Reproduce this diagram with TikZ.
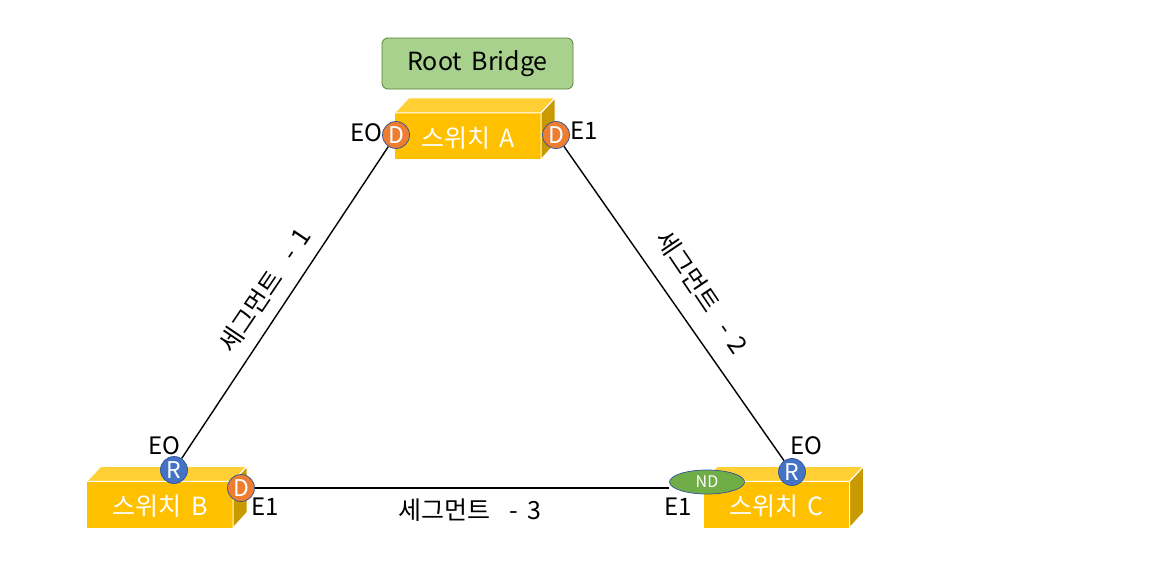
\documentclass[tikz,border=0pt]{standalone}
\usepackage{fontspec}
\setmainfont{Noto Sans CJK KR}[WordSpace=1.7]
\usetikzlibrary{shapes.geometric}
\definecolor{swfrontc}{HTML}{FFC000}
\definecolor{swtopc}{HTML}{FFCF33}
\definecolor{swsidec}{HTML}{C99A00}
\definecolor{rootfill}{HTML}{A9D18E}
\definecolor{rootdraw}{HTML}{548235}
\definecolor{dfill}{HTML}{ED7D31}
\definecolor{rfill}{HTML}{4472C4}
\definecolor{ndfill}{HTML}{70AD47}
\definecolor{portdraw}{HTML}{2F5597}
\tikzset{
  swfront/.style={rectangle, fill=swfrontc, minimum width=146pt, minimum height=46pt, inner sep=0pt},
  swtxt/.style={text=white, font=\fontsize{25}{28}\selectfont, inner sep=0pt},
  swtop/.style={fill=swtopc, draw=white, line width=1pt, line join=round},
  swside/.style={fill=swsidec, draw=white, line width=1pt, line join=round},
  portD/.style={circle, fill=dfill, draw=portdraw, line width=0.7pt, minimum size=27pt, inner sep=0pt, text=white, font=\fontsize{23}{24}\selectfont},
  portR/.style={circle, fill=rfill, draw=portdraw, line width=0.7pt, minimum size=27pt, inner sep=0pt, text=white, font=\fontsize{23}{24}\selectfont},
  portND/.style={ellipse, fill=ndfill, draw=portdraw, line width=0.7pt, minimum width=75pt, minimum height=24pt, inner sep=0pt, text=white, font=\fontsize{16}{18}\selectfont},
  lbl/.style={font=\fontsize{24}{28}\selectfont, inner sep=0pt},
  seglbl/.style={font=\fontsize{25}{28}\selectfont, inner sep=0pt},
  link/.style={draw=black, line width=1.4pt},
  rootbox/.style={rectangle, rounded corners=6pt, fill=rootfill, draw=rootdraw, line width=0.8pt, minimum width=191pt, minimum height=51pt, font=\fontsize{25}{28}\selectfont}
}
\newcommand{\swcube}[1]{%
  \draw[swtop] (#1.north west) -- ++(14,-15) -- ++(146,0) -- (#1.north east) -- cycle;
  \draw[swside] (#1.north east) -- ++(14,-15) -- ++(0,46) -- (#1.south east) -- cycle;
}
\newcommand{\segtext}[1]{세그먼트\hspace{0.35em} - #1}
\begin{document}
\begin{tikzpicture}[x=1pt, y=-1pt]
\useasboundingbox (0,0) rectangle (1159,570);
\fill[white] (0,0) rectangle (1159,570);
% root bridge
\node[rootbox] (root) at (477.5,63.5) {Root Bridge};
% switches
\node[swfront] (swA) at (468,136) {};
\swcube{swA}
\node[swtxt] (swAt) at (468,138) {스위치 A};
\node[swfront] (swB) at (160,504.5) {};
\swcube{swB}
\node[swtxt] (swBt) at (160,506) {스위치 B};
\node[swfront] (swC) at (776.5,504.5) {};
\swcube{swC}
\node[swtxt] (swCt) at (776.5,506) {스위치 C};
% ports
\node[portD] (aL) at (396,135) {D};
\node[portD] (aR) at (556,135) {D};
\node[portR] (bR) at (174,470) {R};
\node[portD] (bD) at (241,488) {D};
\node[portR] (cR) at (792,472) {R};
\node[portND] (cND) at (707,482) {ND};
% links
\draw[link] (aL) -- (bR);
\draw[link] (aR) -- (cR);
\draw[link] (bD.east) -- (bD.east -| cND.west);
% port labels
\node[lbl] (lAL) at (366,133) {EO};
\node[lbl] (lAR) at (584,131) {E1};
\node[lbl] (lBR) at (164,446) {EO};
\node[lbl] (lBD) at (265,507) {E1};
\node[lbl] (lCR) at (806,446) {EO};
\node[lbl] (lCN) at (678,507) {E1};
% segment labels
\node[seglbl, rotate=56] (seg1) at (265,290) {\segtext{1}};
\node[seglbl, rotate=-56] (seg2) at (702,292) {\segtext{2}};
\node[seglbl] (seg3) at (470,510) {\segtext{3}};
\end{tikzpicture}
\end{document}
